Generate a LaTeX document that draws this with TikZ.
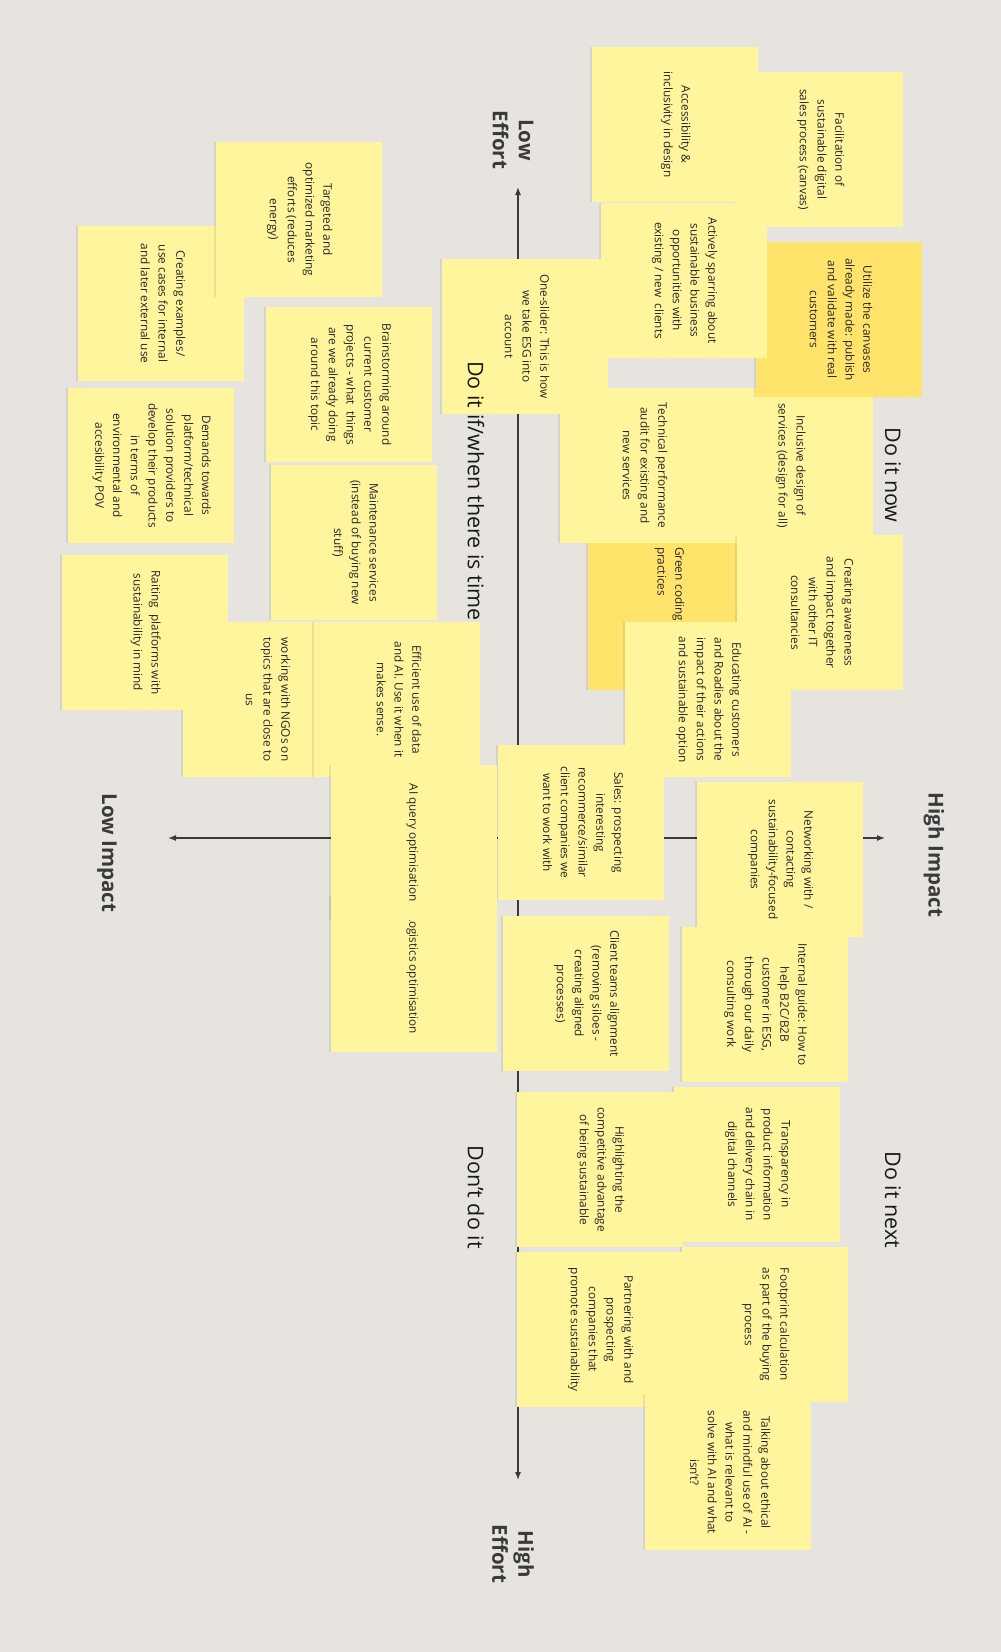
\documentclass[tikz,border=0pt]{standalone}
\usepackage{fontspec}
\setmainfont{Open Sans}
\usetikzlibrary{arrows.meta,shadows}
\definecolor{board}{HTML}{E7E4E0}
\definecolor{stickyyellow}{HTML}{FFF59D}
\definecolor{stickydark}{HTML}{FFE36B}
\definecolor{axisgray}{HTML}{3A3A3A}
\newcommand\notestrut{\rule[-4.3pt]{0pt}{17.8pt}}
\tikzset{
  sticky/.style={fill=stickyyellow,minimum width=155pt,minimum height=166pt,rotate=-90,align=center,text=black!85,
    drop shadow={shadow xshift=-2.5pt,shadow yshift=0pt,opacity=0.08,fill=black},
    execute at begin node=\notestrut,execute at end node=\notestrut,font=\fontsize{11.8}{17.8}\selectfont},
  stickydk/.style={sticky,fill=stickydark},
  quadrant/.style={rotate=-90,text=black!90,font=\fontsize{21.5}{26}\selectfont},
  axislabel/.style={rotate=-90,align=center,text=axisgray,font=\bfseries\fontsize{20.5}{26}\selectfont}
}
\begin{document}
\begin{tikzpicture}[x=1pt,y=-1pt,>={Latex[length=8pt,width=6pt]}]
\useasboundingbox (0,0) rectangle (1001,1652);
\fill[board] (0,0) rectangle (1001,1652);
\coordinate (O) at (518,838);
\coordinate (T) at (518,187);
\coordinate (B) at (518,1480);
\coordinate (L) at (168,838);
\coordinate (R) at (885,838);
\draw[->,axisgray,line width=1.2pt] (O) -- (T);
\draw[->,axisgray,line width=1.2pt] (O) -- (B);
\draw[->,axisgray,line width=1.2pt] (O) -- (L);
\draw[->,axisgray,line width=1.2pt] (O) -- (R);
% do it now
\node[sticky] (facil) at (820,149.5) {Facilitation of\\sustainable digital\\sales process (canvas)};
\node[sticky] (access) at (675,124.5) {Accessibility \&\\inclusivity in design};
\node[stickydk,text width=131pt,align=left] (greencode) at (671,612.5) {Green coding\\practices};
\node[sticky] (inclusive) at (790,465.5) {Inclusive design of\\services (design for all)};
\node[stickydk] (canvases) at (839,319.5) {Utilize the canvases\\already made: publish\\and validate with real\\customers};
\node[sticky] (sparring) at (684,280.5) {Actively sparring about\\sustainable business\\opportunities with\\existing / new\ \ clients};
\node[sticky] (techaudit) at (643,465.5) {Technical performance\\audit for existing and\\new services};
\node[sticky] (oneslider) at (525,336.5) {One-slider: This is how\\we take ESG into\\account};
\node[sticky] (awareness) at (820,612.5) {Creating awareness\\and impact together\\with other IT\\consultancies};
\node[sticky] (educating) at (708,699.5) {Educating customers\\and Roadies about the\\impact of their actions\\and sustainable option};
\node[sticky] (sales) at (581,822.5) {Sales: prospecting\\interesting\\recommerce/similar\\client companies we\\want to work with};
% do it next
\node[sticky] (networking) at (780,859.5) {Networking with /\\contacting\\sustainability-focused\\companies};
\node[sticky] (guide) at (765,1004.5) {Internal guide: How to\\help B2C/B2B\\customer in ESG,\\through our daily\\consulting work};
\node[sticky] (siloes) at (586,993.5) {Client teams alignment\\(removing siloes -\\creating aligned\\processes)};
\node[sticky] (transparency) at (757,1164.5) {Transparency in\\product information\\and delivery chain in\\digital channels};
\node[sticky] (advantage) at (600,1169.5) {Highlighting the\\competitive advantage\\of being sustainable};
\node[sticky] (footprint) at (765,1324.5) {Footprint calculation\\as part of the buying\\process};
\node[sticky] (partnering) at (600,1329.5) {Partnering with and\\prospecting\\companies that\\promote sustainability};
\node[sticky] (ethical) at (728,1472.5) {Talking about ethical\\and mindful use of AI -\\what is relevant to\\solve with AI and what\\isn't?};
% do it if/when there is time
\node[sticky] (examples) at (161,303.5) {Creating examples/\\use cases for internal\\and later external use};
\node[sticky] (marketing) at (299,219.5) {Targeted and\\optimized marketing\\efforts (reduces\\energy)};
\node[sticky] (brainstorm) at (349,384.5) {Brainstorming around\\current customer\\projects - what\ \ things\\are we already doing\\around this topic};
\node[sticky] (demands) at (151,465.5) {Demands towards\\platform/technical\\solution providers to\\develop their products\\in terms of\\environmental and\\accesibility POV};
\node[sticky] (maintenance) at (354,542.5) {Maintenance services\\(instead of buying new\\stuff)};
\node[sticky] (ngos) at (266,699.5) {working with NGOs on\\topics that are close to\\us};
\node[sticky] (raiting) at (145,632.5) {Raiting\ \ platforms with\\sustainability in mind};
\node[sticky] (efficient) at (397,699.5) {Efficient use of data\\and AI. Use it when it\\makes sense.};
% don't do it
\node[sticky] (logistics) at (414,974.5) {Logistics optimisation};
\node[sticky] (aiquery) at (414,842.5) {AI query optimisation};
% labels
\node[quadrant] (now) at (893,475) {Do it now};
\node[quadrant] (time) at (476,491) {Do it if/when there is time};
\node[quadrant] (next) at (893,1200) {Do it next};
\node[quadrant] (dont) at (476,1197) {Don't do it};
\node[axislabel] (loweffort) at (513,140) {Low\\Effort};
\node[axislabel] (higheffort) at (513,1554) {High\\Effort};
\node[axislabel] (highimpact) at (934,855) {High Impact};
\node[axislabel] (lowimpact) at (107,853) {Low Impact};
\end{tikzpicture}
\end{document}
